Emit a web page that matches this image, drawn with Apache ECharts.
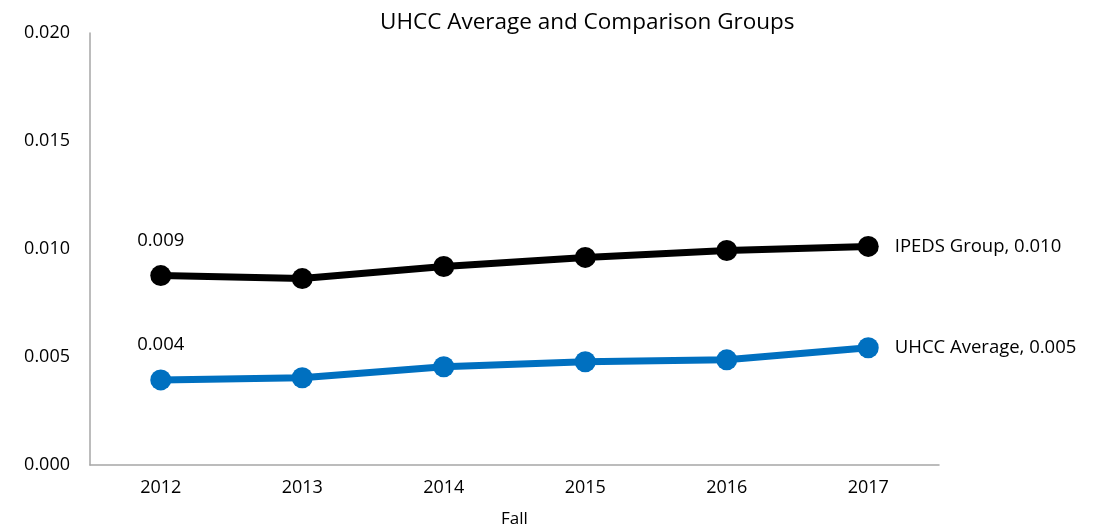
<!DOCTYPE html>
<html>
<head>
    <meta charset="utf-8" />
    <title>UHCC Average and Comparison Groups</title>
    <script src="https://cdn.jsdelivr.net/npm/echarts@6/dist/echarts.min.js"></script>
    <style>
        body { margin: 0; background: #fff; }
        #chart1 { width: 1104px; height: 528px; }
    </style>
</head>
<body>
    <div id="chart1"></div>
    <script type="text/javascript">
        var years = ['2012', '2013', '2014', '2015', '2016', '2017'];
        var ipedsGroup = [0.00877, 0.00863, 0.00919, 0.00961, 0.00993, 0.01012];
        var uhccAverage = [0.00394, 0.00404, 0.00455, 0.00478, 0.00487, 0.00543];
        var yTicks = [0, 0.005, 0.010, 0.015, 0.020];

        var fontName = 'Open Sans';

        function pointLabel(name, last) {
            // first point: value above, last point: series name + value on the right
            return function (p) {
                if (p.dataIndex === 0) return p.value.toFixed(3);
                if (p.dataIndex === last) return name + ', ' + p.value.toFixed(3);
                return '';
            };
        }

        function makeSeries(name, data, color) {
            var last = data.length - 1;
            return {
                name: name,
                type: 'line',
                data: data.map(function (v, i) {
                    var item = { value: v };
                    if (i === 0) item.label = { show: true, position: 'top', distance: 15 };
                    else if (i === last) item.label = { show: true, position: 'right', distance: 16 };
                    return item;
                }),
                symbol: 'circle',
                symbolSize: 21,
                lineStyle: { color: color, width: 7 },
                itemStyle: { color: color },
                label: {
                    show: false,
                    color: '#000',
                    fontFamily: fontName,
                    fontSize: 18.5,
                    formatter: pointLabel(name, last)
                },
                emphasis: { disabled: true }
            };
        }

        var myChart1 = echarts.init(document.getElementById('chart1'));
        var option = {
            animation: false,
            title: {
                text: 'UHCC Average and Comparison Groups',
                left: 375,
                top: 6,
                textStyle: { fontFamily: fontName, fontSize: 22.5, fontWeight: 'normal', color: '#000' }
            },
            grid: { left: 90, right: 165, top: 33, bottom: 63, outerBoundsMode: 'none', containLabel: false },
            xAxis: {
                type: 'category',
                data: years,
                name: 'Fall',
                nameLocation: 'middle',
                nameGap: 46,
                nameTextStyle: { fontFamily: fontName, fontSize: 17, color: '#000' },
                axisLine: { lineStyle: { color: '#a6a6a6', width: 1.5 } },
                axisTick: { show: false },
                axisLabel: { fontFamily: fontName, fontSize: 18, color: '#000', margin: 14 },
                splitLine: { show: false }
            },
            yAxis: {
                type: 'value',
                min: yTicks[0],
                max: yTicks[yTicks.length - 1],
                interval: 0.005,
                axisLine: { show: true, lineStyle: { color: '#a6a6a6', width: 1.5 } },
                axisTick: { show: false },
                axisLabel: {
                    fontFamily: fontName, fontSize: 18, color: '#000', margin: 20,
                    formatter: function (v) { return v.toFixed(3); }
                },
                splitLine: { show: false }
            },
            series: [
                makeSeries('IPEDS Group', ipedsGroup, '#000000'),
                makeSeries('UHCC Average', uhccAverage, '#0070c0')
            ]
        };
        myChart1.setOption(option);
    </script>
</body>
</html>
